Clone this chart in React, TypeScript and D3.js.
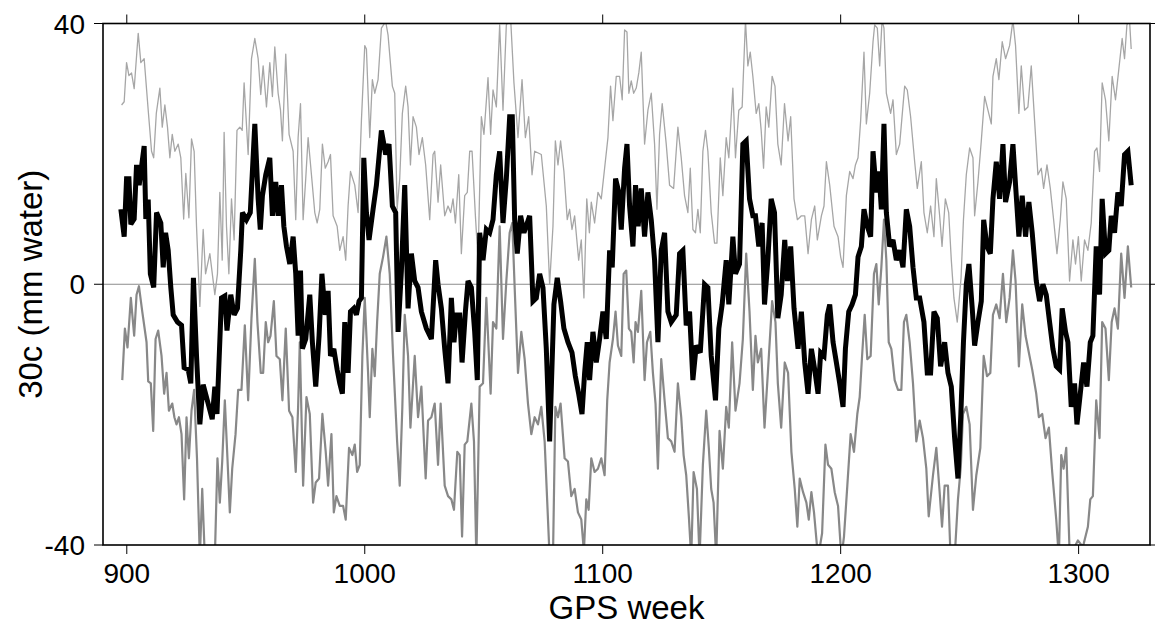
import React from "react";
import * as d3 from "d3";

// [GPS week, mm water]
const meanSeries: [number, number][] = [
  [897.5,11.5],[898.9,7.3],[899.9,16.2],[900.9,16.2],[901.7,9.2],[903.1,10],[904.1,18.3],[905.2,15.2],[907.3,21.2],[908,10],[909,13],[909.9,1.6],[911.3,-0.5],[912.5,11],[914.3,9.4],[915.3,2.6],[916.3,7.9],[917.4,5.2],[918.5,-0.5],[919.5,-4.7],[921.3,-5.8],[923,-6.3],[924.1,-12.8],[925.8,-13.1],[926.9,-15.2],[928,1],[929.3,-11],[930.7,-21.5],[932.1,-15.4],[934.2,-18.3],[935.9,-20.7],[937,-15.7],[937.9,-19.9],[939.8,-2.1],[941.2,-1.8],[942.1,-7.1],[943.7,-1.6],[945.1,-4.7],[946.5,-3.7],[947.9,5.2],[948.6,11],[950.3,9.9],[951.9,11],[953.8,24.6],[955.2,13.1],[956.1,8.4],[957,13.6],[958.4,16.8],[960.1,19.4],[961.2,10.5],[962.6,15.7],[963.6,10.5],[965,15.2],[966,8.9],[967.1,5.8],[968.5,3.1],[969.9,7.3],[971,1.6],[972,-7.9],[973,2.1],[973.8,-9.9],[975.2,-8.4],[976.9,-1.6],[978,-8.9],[979.4,-15.7],[980.8,-7.9],[982,1.6],[983.4,-4.7],[984.6,-1],[985.6,-11],[987,-9.9],[988.4,-13.1],[989.5,-15.2],[990.6,-16.8],[991.6,-5.8],[993,-13.6],[994,-4.2],[995.4,-3.7],[996.5,-4.7],[997.6,-2.6],[998.6,-2.1],[999.6,19.4],[1000.7,11],[1001.8,6.8],[1003.5,11.5],[1004.9,15.2],[1007,23.6],[1008.8,19.9],[1010.2,21.5],[1011.6,12],[1013,11],[1014,-7.3],[1015.4,2.1],[1016.8,15.2],[1018.2,-3.7],[1019.6,4.7],[1021,0.5],[1022.4,-0.5],[1023.8,-4.2],[1025.9,-6.8],[1028,-8.4],[1029.8,3.7],[1030.8,0],[1032.2,-3.7],[1033.6,-9.9],[1035,-15.2],[1036.4,-2.1],[1037.5,-8.9],[1038.5,-4.7],[1039.9,-4.7],[1040.9,-12],[1042.3,-4.2],[1043.4,0.5],[1044.8,-0.5],[1046.2,-7.3],[1047.3,-14.7],[1048.3,7.9],[1049.7,3.7],[1051.1,8.4],[1052.5,7.9],[1053.9,9.9],[1055.3,16.8],[1056.7,20.4],[1058.1,9.4],[1059.5,16.2],[1060.9,25.7],[1062,25.7],[1063,9.9],[1064.1,4.7],[1065.5,10.5],[1066.9,7.9],[1069.3,10.5],[1070.7,-2.6],[1072.1,-2.1],[1073.5,1.6],[1074.9,-0.5],[1076.3,-9.9],[1077.7,-24.1],[1079.5,-3.1],[1080.9,1],[1082.3,-2.6],[1083.7,-6.8],[1085.4,-8.9],[1087.1,-10.5],[1088.5,-14.1],[1089.9,-16.8],[1091.3,-19.9],[1092.4,-13.6],[1093.5,-8.9],[1094.5,-14.7],[1095.9,-7.3],[1097.3,-12],[1098.7,-8.4],[1100.1,-4.2],[1101.5,-8.4],[1102.9,5.2],[1104,2.6],[1105.4,16.2],[1106.8,14.1],[1107.8,8.4],[1109.2,17.8],[1110.2,21.5],[1111.3,12],[1112.7,5.8],[1113.8,15.2],[1114.9,8.9],[1116.2,14.7],[1117.6,7.3],[1119,14.1],[1120.4,9.9],[1121.8,3.7],[1123.2,-8.9],[1124.6,5.2],[1126,7.9],[1127.4,-4.2],[1128.8,-5.8],[1130.9,-4.7],[1132.3,4.7],[1133.7,5.2],[1135.1,-6.3],[1136.5,-4.2],[1137.9,-14.7],[1139.3,-9.4],[1141,-10.5],[1142.8,0],[1144.2,-0.5],[1145.6,-11],[1147.4,-17.8],[1148.8,-6.8],[1150.2,-3.1],[1151.9,3.7],[1153,-3.1],[1154.7,7.3],[1155.8,1.6],[1157.5,3.1],[1158.9,21.5],[1160.3,22],[1161.7,13.1],[1163.1,10.5],[1164.2,10.5],[1165.6,5.8],[1167,9.4],[1168,-3.1],[1169.4,3.7],[1170.8,13.1],[1172.2,11],[1173.6,-5.2],[1175,-1.6],[1176.5,6.8],[1177.6,0.5],[1179,5.8],[1180.4,-3.7],[1182.1,-9.9],[1183.5,-4.2],[1184.9,-12],[1186.3,-16.8],[1187.7,-9.9],[1189.1,-13.1],[1190.5,-16.8],[1191.6,-10.5],[1193,-11],[1194.4,-4.7],[1195.4,-3.1],[1196.8,-8.9],[1198.2,-12],[1199.6,-15.2],[1201,-18.8],[1202,-9.9],[1203.4,-4.2],[1204.8,-3.1],[1206.2,-1.6],[1207.3,4.2],[1208.7,5.8],[1209.8,11.5],[1211.2,8.9],[1212.6,7.3],[1213.6,20.4],[1215,14.1],[1216.1,17.3],[1217.1,11.5],[1218.2,24.6],[1219.2,11],[1220.6,5.8],[1222,6.8],[1223.4,3.7],[1224.8,5.2],[1226.2,2.6],[1227.6,11.5],[1229,8.9],[1230.4,2.6],[1231.8,-2.1],[1233.2,-2.1],[1235,-5.8],[1236.4,-13.6],[1237.8,-13.6],[1239.2,-4.2],[1240.6,-5.2],[1242,-12.6],[1243.7,-8.9],[1245.1,-13.6],[1246.5,-15.7],[1247.9,-23.6],[1249.3,-29.8],[1250.5,-20],[1251.6,-8.9],[1252.8,0],[1253.9,3.1],[1255.3,-3.7],[1256.3,-9.4],[1257.7,-5.8],[1259.1,-2.6],[1260.1,9.9],[1261.5,5.8],[1262.9,4.7],[1264,13.1],[1265.4,18.8],[1266.8,13.1],[1268.2,21.5],[1269.3,12.6],[1271,15.7],[1272.4,21.5],[1273.5,15.2],[1274.9,7.3],[1276.3,13.6],[1277.7,7.3],[1279.1,12.6],[1280.5,7.9],[1282.2,0.5],[1283.6,-2.6],[1285,0],[1286.4,-1.6],[1287.8,-5.8],[1289.2,-9.9],[1290.6,-12.6],[1292,-13.1],[1293.1,-3.7],[1294.5,-7.3],[1295.5,-8.9],[1296.9,-18.8],[1298.3,-15.2],[1299.3,-21.5],[1300.4,-17.8],[1302.1,-12],[1303.5,-15.7],[1304.9,-8.9],[1306,-7.9],[1307.4,5.8],[1308.8,-1.6],[1309.9,13.1],[1311.3,4.7],[1312.7,5.2],[1313.7,10.5],[1315.1,7.9],[1316.5,14.1],[1317.9,12],[1319.3,19.9],[1320.7,20.4],[1322.1,15.2]
];

const upperBand: [number, number][] = [
  [897.8,27.5],[898.9,28],[899.9,34],[900.9,32],[902,32.4],[903.1,30],[904.8,38.5],[905.9,34],[907.3,34.6],[909,26.7],[910.4,20.4],[911.3,19.4],[912.4,26.2],[913.9,30.1],[914.9,24.1],[916,27.5],[917.1,24.1],[918.1,19.4],[919.1,23],[920.2,20.4],[921.6,21.5],[922.7,19.4],[923.9,10],[924.8,17],[926.1,10.2],[927.2,22.3],[928.3,20.4],[929.3,8.9],[930.7,-3.4],[932.1,8.4],[933.1,1.6],[934.9,4.7],[937,-1.6],[938.1,1.6],[939.1,14.1],[940.1,3.7],[940.9,23.3],[941.9,8.9],[942.9,1.6],[944,13.1],[945.1,6.8],[946.3,23.6],[947.5,24.1],[948.5,23.6],[949.3,30.9],[951,19.9],[952.4,34.6],[953.8,37.7],[955.2,34.6],[956.3,29.1],[957.3,33.5],[958.7,27.2],[960.1,34],[961.2,28.8],[962.2,36.4],[963.6,29.3],[964.6,26.7],[965.4,22],[966.8,35.3],[968.2,23],[969.9,20.4],[971,9.9],[972,22.5],[973,27.7],[974.1,9.9],[975.2,16.2],[976.2,22.5],[977.6,16.8],[979,11],[980,9.4],[981.1,11.5],[982.2,21.5],[983.4,17.8],[984.6,18.8],[985.6,19.9],[986.7,10.5],[988.4,8.9],[989.5,5.2],[990.9,7.3],[992,3.7],[993,12],[994,17.3],[995.8,15.2],[997.2,11],[998.6,25.1],[1000,36.6],[1000.7,36.1],[1002.1,22.5],[1003.2,31.4],[1004.2,29.3],[1005.6,31.4],[1007,39.3],[1008.8,40.3],[1009.8,38.2],[1011.6,30.4],[1012.6,29.3],[1013.6,11.5],[1014.7,16.2],[1015.8,26.2],[1017.2,30.4],[1018.2,27.2],[1019.2,18.3],[1020.3,25.7],[1021.7,24.1],[1022.8,19.9],[1024.2,22.5],[1025.6,18.3],[1027.3,9.9],[1028.7,19.9],[1029.4,20.4],[1030.8,12.6],[1031.9,18.3],[1033.6,10.5],[1035,12],[1036.1,11],[1037.1,13.1],[1038.1,9.4],[1039.5,16.8],[1040.6,4.7],[1042,13.6],[1043.1,14.1],[1044.1,20.4],[1045.1,20.4],[1046.5,10.5],[1047.6,3.7],[1049,25.7],[1050.1,23],[1051.8,31.7],[1052.9,23],[1053.9,29.8],[1055.3,27.2],[1056.7,39.8],[1058.1,26.7],[1059.5,39.8],[1061.3,40.8],[1062.7,30.9],[1064.4,22.5],[1066.1,31.4],[1067.5,22.5],[1068.9,25.7],[1070.3,16.8],[1071.4,20.4],[1074.2,19.9],[1076.3,12],[1077.7,0],[1079.1,8.9],[1080.1,22],[1081.2,18.3],[1082.3,22],[1083.7,17.3],[1085.1,9.9],[1086.1,11.5],[1087.1,8.4],[1088.2,10.5],[1089.9,3.7],[1091,6.8],[1092.1,-2.1],[1093.3,13.1],[1094.4,7.9],[1095.2,12.6],[1096.6,9.4],[1098,14.1],[1099.4,13.1],[1100.8,17.8],[1102.2,22.5],[1103.3,30.4],[1104.3,25.1],[1105.7,31.9],[1107.1,31.9],[1108.2,28.3],[1109.2,39],[1110.2,38.7],[1111,29.3],[1112,31.2],[1113,29.3],[1114.1,30.1],[1115.2,32.5],[1116.2,35.6],[1117.6,21.5],[1119,26.7],[1120.4,29.3],[1121.8,21.5],[1122.8,11.5],[1123.9,23],[1125,27.7],[1126.7,21.5],[1128.1,15.2],[1129.8,14.7],[1131.6,24.1],[1133,19.4],[1134.4,13.6],[1135.8,11],[1136.8,17.8],[1137.9,8.4],[1139,7.9],[1140,11.5],[1141,7.9],[1142.1,20.4],[1143.2,23.6],[1144.2,20.4],[1145.6,11],[1147,6.3],[1148,6.3],[1149.4,19.4],[1150.5,13.6],[1151.9,22.5],[1153,19.4],[1154.7,30.1],[1155.8,19.4],[1157.2,26.7],[1158.6,27.2],[1160,40.5],[1161,33.5],[1162,35.6],[1163.1,31.9],[1164.5,26.2],[1165.6,27.7],[1166.6,23.6],[1167.6,17.8],[1168.7,27.2],[1169.8,24.1],[1171.2,31.9],[1172.4,30.4],[1173.6,21.5],[1175,18.3],[1176.4,27.7],[1177.9,22],[1179,25.7],[1180.4,13.1],[1181.8,9.9],[1183.5,10.5],[1184.9,10.5],[1186.3,4.7],[1187.7,9.9],[1189.1,12],[1190.2,6.8],[1191.9,10.5],[1193,12],[1194,18.8],[1195.4,15.2],[1197.2,8.9],[1198.9,7.3],[1200,4.2],[1201,2.6],[1202.4,13.6],[1203.8,17.3],[1205.2,16.2],[1206.2,18.3],[1207.3,19.4],[1208.4,25.1],[1209.8,35.6],[1210.8,24.6],[1212.2,29.3],[1213.6,37.2],[1214.3,39.8],[1215.4,39.3],[1216.4,33.5],[1217.4,40.5],[1218.2,39.3],[1219.2,29.3],[1221,26.2],[1222,28.3],[1223.4,19.9],[1224.8,21.5],[1226.9,30.4],[1228,29.8],[1229.4,25.7],[1231.1,18.8],[1232.2,14.7],[1233.9,18.8],[1235,11],[1236.4,7.9],[1237.8,12],[1239.2,7.3],[1240.2,16.2],[1241.6,10.5],[1242.6,5.8],[1244,13.1],[1245.4,11],[1246.5,3.7],[1247.6,-2.1],[1249,-5.8],[1250.6,1],[1251.6,9.9],[1252.8,16.8],[1254.2,20.9],[1255.6,19.4],[1256.3,10.5],[1257.7,15.7],[1259.1,22],[1260.5,28.8],[1261.9,26.7],[1263.3,24.6],[1264,31.9],[1265.4,34.6],[1266.5,31.4],[1267.9,37.2],[1269.3,34.6],[1271,36.6],[1272.4,40.5],[1273.5,36.6],[1274.9,26.2],[1275.9,33.5],[1277.3,26.7],[1278.7,27.2],[1280.1,33.5],[1281.5,25.1],[1282.9,16.8],[1284.3,17.8],[1285.3,14.7],[1286.7,18.3],[1288.1,14.7],[1289.5,9.9],[1290.9,4.7],[1292.3,9.9],[1293.4,15.7],[1294.8,13.1],[1296.2,0.5],[1297.6,6.8],[1298.7,3.1],[1299.9,7.3],[1301.1,0.5],[1302.5,6.8],[1303.9,5.2],[1305.3,9.4],[1306.7,20.4],[1307.7,20.9],[1308.8,17.3],[1309.9,30.9],[1311.3,28.3],[1312.7,22],[1314.1,31.9],[1315.5,28.3],[1316.9,33],[1318.3,37.7],[1319.3,34.6],[1320.3,39.8],[1321.4,40.5],[1322.1,36.1]
];

const lowerBand: [number, number][] = [
  [898.1,-14.7],[899.2,-6.8],[900.3,-9.7],[901.7,-2.1],[903.1,-7.9],[904.1,-1.6],[905.1,-0.3],[906.5,-4.2],[908.3,-8.9],[909,-14.9],[910.1,-15.2],[911.1,-22.5],[912.1,-8.4],[913.2,-7.1],[914.6,-11],[915.7,-16.8],[916.7,-13.6],[917.7,-19.4],[919.1,-18.3],[920,-20.4],[920.9,-21.5],[921.9,-20.4],[923,-23],[924.1,-33],[925.1,-20.4],[926.1,-26.7],[927.2,-19.4],[928.3,-16.2],[929.5,-26.7],[930.7,-42],[931.7,-31.4],[932.8,-42],[934.9,-42],[937,-42],[938.1,-26.7],[939.1,-33.5],[940.1,-27.2],[941.2,-17.8],[942.3,-26.7],[943.3,-35],[944.3,-28.3],[945.7,-23],[946.8,-16.2],[948.2,-16.2],[949.6,-6.3],[951,-17.8],[952.4,-5.2],[953.8,3.9],[954.9,-5.8],[956.3,-13.6],[957.3,-13.6],[958.4,-5.8],[959.4,-8.9],[960.4,-7.9],[961.8,-2.6],[962.9,-11],[964.3,-11.5],[965.4,-17.8],[966.8,-6.8],[968.2,-19.4],[969.6,-20.4],[971,-28.8],[972,-18.8],[972.7,-8.9],[974.1,-30.9],[975.5,-17.3],[976.9,-19.9],[978.3,-33.5],[979.4,-30.4],[980.8,-29.8],[982.2,-19.9],[983.6,-25.7],[984.6,-30.9],[986,-23],[987,-35],[988.1,-32.5],[989.5,-34],[990.9,-34],[992,-36.1],[993.4,-25.1],[994.8,-26.2],[995.8,-24.6],[996.8,-28.8],[997.9,-27.7],[999,-11],[1000,-2.1],[1001.4,-13.6],[1002.1,-20.4],[1003.2,-9.9],[1004.2,-14.1],[1005.2,-5.8],[1006.3,1.6],[1007.7,4.2],[1009.1,7.3],[1010.5,1.6],[1011.9,-11],[1013.6,-24.1],[1014.7,-30.9],[1015.8,-18.8],[1016.8,-4.7],[1018.2,-11],[1019.2,-22],[1021,-11],[1022.4,-20.4],[1023.8,-15.7],[1025.6,-29.8],[1026.6,-20.9],[1028,-20.4],[1029.4,-18.3],[1030.8,-27.7],[1031.9,-18.3],[1033.6,-30.9],[1035,-32.5],[1036.4,-33],[1037.5,-34.6],[1038.9,-25.7],[1039.9,-26.2],[1040.9,-38.7],[1042,-24.6],[1043.1,-24.1],[1044.8,-18.3],[1045.9,-24.1],[1046.9,-42],[1048.3,-15.7],[1049.7,-15.2],[1051.1,-2.1],[1052.9,-16.8],[1053.9,-5.8],[1055.3,-6.8],[1056.7,8.9],[1058.1,-8.4],[1059.5,0.5],[1060.9,7.9],[1062,9.4],[1063,-0.5],[1064.4,-13.6],[1065.8,-7.3],[1067.2,-11.5],[1068.6,-18.3],[1070,-23],[1071.4,-20.4],[1072.8,-21.5],[1074.2,-18.8],[1075.6,-24.1],[1077.7,-42],[1079.1,-42],[1080.1,-18.8],[1081.2,-20.4],[1082.3,-18.3],[1084,-26.7],[1085.4,-27.2],[1086.8,-32.5],[1088.2,-31.4],[1089.6,-35],[1091,-36.1],[1092.1,-41],[1093.1,-33],[1094.1,-34.6],[1095.2,-26.7],[1096.6,-28.8],[1098,-28.3],[1099.4,-26.7],[1100.8,-29.3],[1101.9,-17.8],[1102.9,-12],[1104.3,-8.4],[1105.4,-4.2],[1106.4,-9.4],[1107.8,-11],[1108.8,1.6],[1109.9,2.1],[1111,-6.8],[1112,-7.3],[1113,-12],[1113.8,-5.8],[1114.8,-7.3],[1116.2,-1],[1117.6,-14.7],[1118.6,-8.9],[1120,-7.3],[1121.1,-13.6],[1122.2,-18.3],[1123.2,-28.3],[1124.6,-11.5],[1126,-17.8],[1127.4,-23.6],[1128.8,-24.1],[1130.2,-25.7],[1131.6,-15.2],[1133,-20.4],[1134,-26.2],[1135.1,-29.3],[1136.2,-35.6],[1137.2,-42],[1138.2,-28.8],[1139.6,-31.4],[1140.7,-42],[1142.1,-27.7],[1143.5,-19.4],[1144.6,-25.1],[1145.6,-31.4],[1146.6,-33.5],[1147.7,-42],[1149.1,-22.5],[1150.5,-28.3],[1151.9,-18.8],[1153,-22],[1154.4,-8.9],[1155.8,-19.4],[1157.5,-15.2],[1158.9,-8.4],[1160.3,4.7],[1161.7,-4.2],[1163.1,-16.2],[1164.2,-7.9],[1165.2,-12],[1166.6,-9.9],[1168,-22],[1169.4,-13.6],[1171.2,-2.6],[1172.6,-5.8],[1173.6,-15.2],[1175,-22],[1176.5,-12],[1177.9,-13.6],[1179.3,-25.7],[1180.7,-31.4],[1181.8,-37.2],[1182.8,-29.8],[1184.2,-31.9],[1185.6,-33.5],[1186.6,-36.1],[1187.7,-31.9],[1188.8,-35],[1190.5,-42],[1192.2,-38.2],[1193.6,-24.6],[1194.7,-27.7],[1196.1,-28.3],[1197.5,-31.9],[1198.9,-34],[1200.3,-42],[1201.4,-38.7],[1202.8,-30.9],[1204.2,-23],[1205.6,-25.7],[1207,-19.9],[1208,-17.3],[1209,-11],[1210.1,-4.7],[1211.2,-11.5],[1212.6,-11],[1214,1.6],[1215,3.1],[1216,-3.1],[1217.1,2.6],[1218.2,9.9],[1219.2,3.7],[1220.2,-8.9],[1221.3,-9.9],[1222.7,-14.7],[1224.1,-16.2],[1225.5,-16.2],[1226.6,-5.8],[1227.6,-4.7],[1229,-8.9],[1230.4,-15.2],[1231.8,-24.1],[1233.2,-20.9],[1234.6,-23.6],[1236,-28.3],[1237,-35.6],[1238.8,-29.3],[1240.2,-25.1],[1241.6,-31.9],[1242.6,-37.2],[1243.7,-30.9],[1245.1,-30.9],[1246.2,-42],[1247.9,-42],[1249.3,-33],[1250.5,-28],[1251.4,-19.9],[1252.8,-18.8],[1254.2,-21.5],[1255.6,-34.6],[1257,-29.3],[1258.7,-25.1],[1260.1,-11],[1261.5,-14.1],[1262.9,-13.6],[1264,-4.7],[1265.4,-3.1],[1266.8,-5.2],[1268.2,1.6],[1269.6,-5.8],[1271,-2.1],[1272.4,5.2],[1273.5,0.5],[1274.9,-12.6],[1276.3,-3.1],[1277.7,-7.9],[1279.1,-10.5],[1280.5,-13.1],[1282.2,-16.8],[1283.3,-20.4],[1284.7,-19.9],[1286.1,-23.6],[1287.5,-22],[1288.9,-28.8],[1290.6,-36.1],[1291.7,-42],[1292.7,-26.2],[1293.7,-28.3],[1294.8,-25.1],[1296.2,-41],[1298.3,-40.3],[1299.7,-39.3],[1301.8,-40.3],[1303.9,-37.2],[1304.9,-33],[1306,-32.5],[1307.4,-17.8],[1308.8,-23.6],[1309.9,-5.8],[1311.3,-6.8],[1312.7,-14.7],[1313.9,-5.8],[1315.1,-3.7],[1316.5,-6.8],[1317.9,4.7],[1319.3,-2.1],[1320.7,5.8],[1322.1,-0.5]
];

const weekTicks = [900, 1000, 1100, 1200, 1300];
const valueTicks = [-40, 0, 40];

const W = 1155;
const H = 628;
const left = 103, right = 1150, top = 23.5, bottom = 545;
const font = "'Liberation Sans', Arial, Helvetica, sans-serif";

const App = () => {
  const x = d3.scaleLinear().domain([890, 1330]).range([left, right]);
  const y = d3.scaleLinear().domain([-40, 40]).range([bottom, top]);

  const line = d3.line<[number, number]>()
    .x(d => x(d[0]))
    .y(d => y(d[1]));

  return (
    <svg width={W} height={H} style={{ position: "absolute", left: 0, top: 0, background: "#fff" }}
      fontFamily={font}>
      <defs>
        <clipPath id="plotClip">
          <rect x={left} y={top} width={right - left} height={bottom - top} />
        </clipPath>
      </defs>

      <g clipPath="url(#plotClip)">
        <line x1={left} x2={right} y1={y(0)} y2={y(0)} stroke="#8c8c8c" strokeWidth={1} />
        <path d={line(upperBand) ?? ""} fill="none" stroke="#a6a6a6" strokeWidth={1.3} strokeLinejoin="round" />
        <path d={line(lowerBand) ?? ""} fill="none" stroke="#888" strokeWidth={2.2} strokeLinejoin="round" />
        <path d={line(meanSeries) ?? ""} fill="none" stroke="#000" strokeWidth={5} strokeLinejoin="miter" strokeMiterlimit={3} />
      </g>

      {/* frame */}
      <rect x={left} y={top} width={right - left} height={bottom - top} fill="none" stroke="#000" strokeWidth={1.6} />

      {/* x ticks top and bottom */}
      {weekTicks.map(t => (
        <g key={t}>
          <line x1={x(t)} x2={x(t)} y1={bottom} y2={bottom + 9} stroke="#000" strokeWidth={1} />
          <line x1={x(t)} x2={x(t)} y1={top} y2={top - 9} stroke="#000" strokeWidth={1} />
          <text x={x(t)} y={583} textAnchor="middle" fontSize={28} fill="#000">{t}</text>
        </g>
      ))}

      {/* y ticks */}
      {valueTicks.map(t => (
        <g key={t}>
          <line x1={left - 9} x2={left} y1={y(t)} y2={y(t)} stroke="#000" strokeWidth={1} />
          <line x1={right} x2={right + 9} y1={y(t)} y2={y(t)} stroke="#000" strokeWidth={1} />
          <text x={85} y={y(t)} dy="0.36em" textAnchor="end" fontSize={28} fill="#000">{t}</text>
        </g>
      ))}

      <text x={(left + right) / 2} y={619} textAnchor="middle" fontSize={33} fill="#000">GPS week</text>
      <text transform={`translate(42, ${(top + bottom) / 2}) rotate(-90)`} textAnchor="middle" fontSize={33} fill="#000">30c (mm water)</text>
    </svg>
  );
};

export default App;
